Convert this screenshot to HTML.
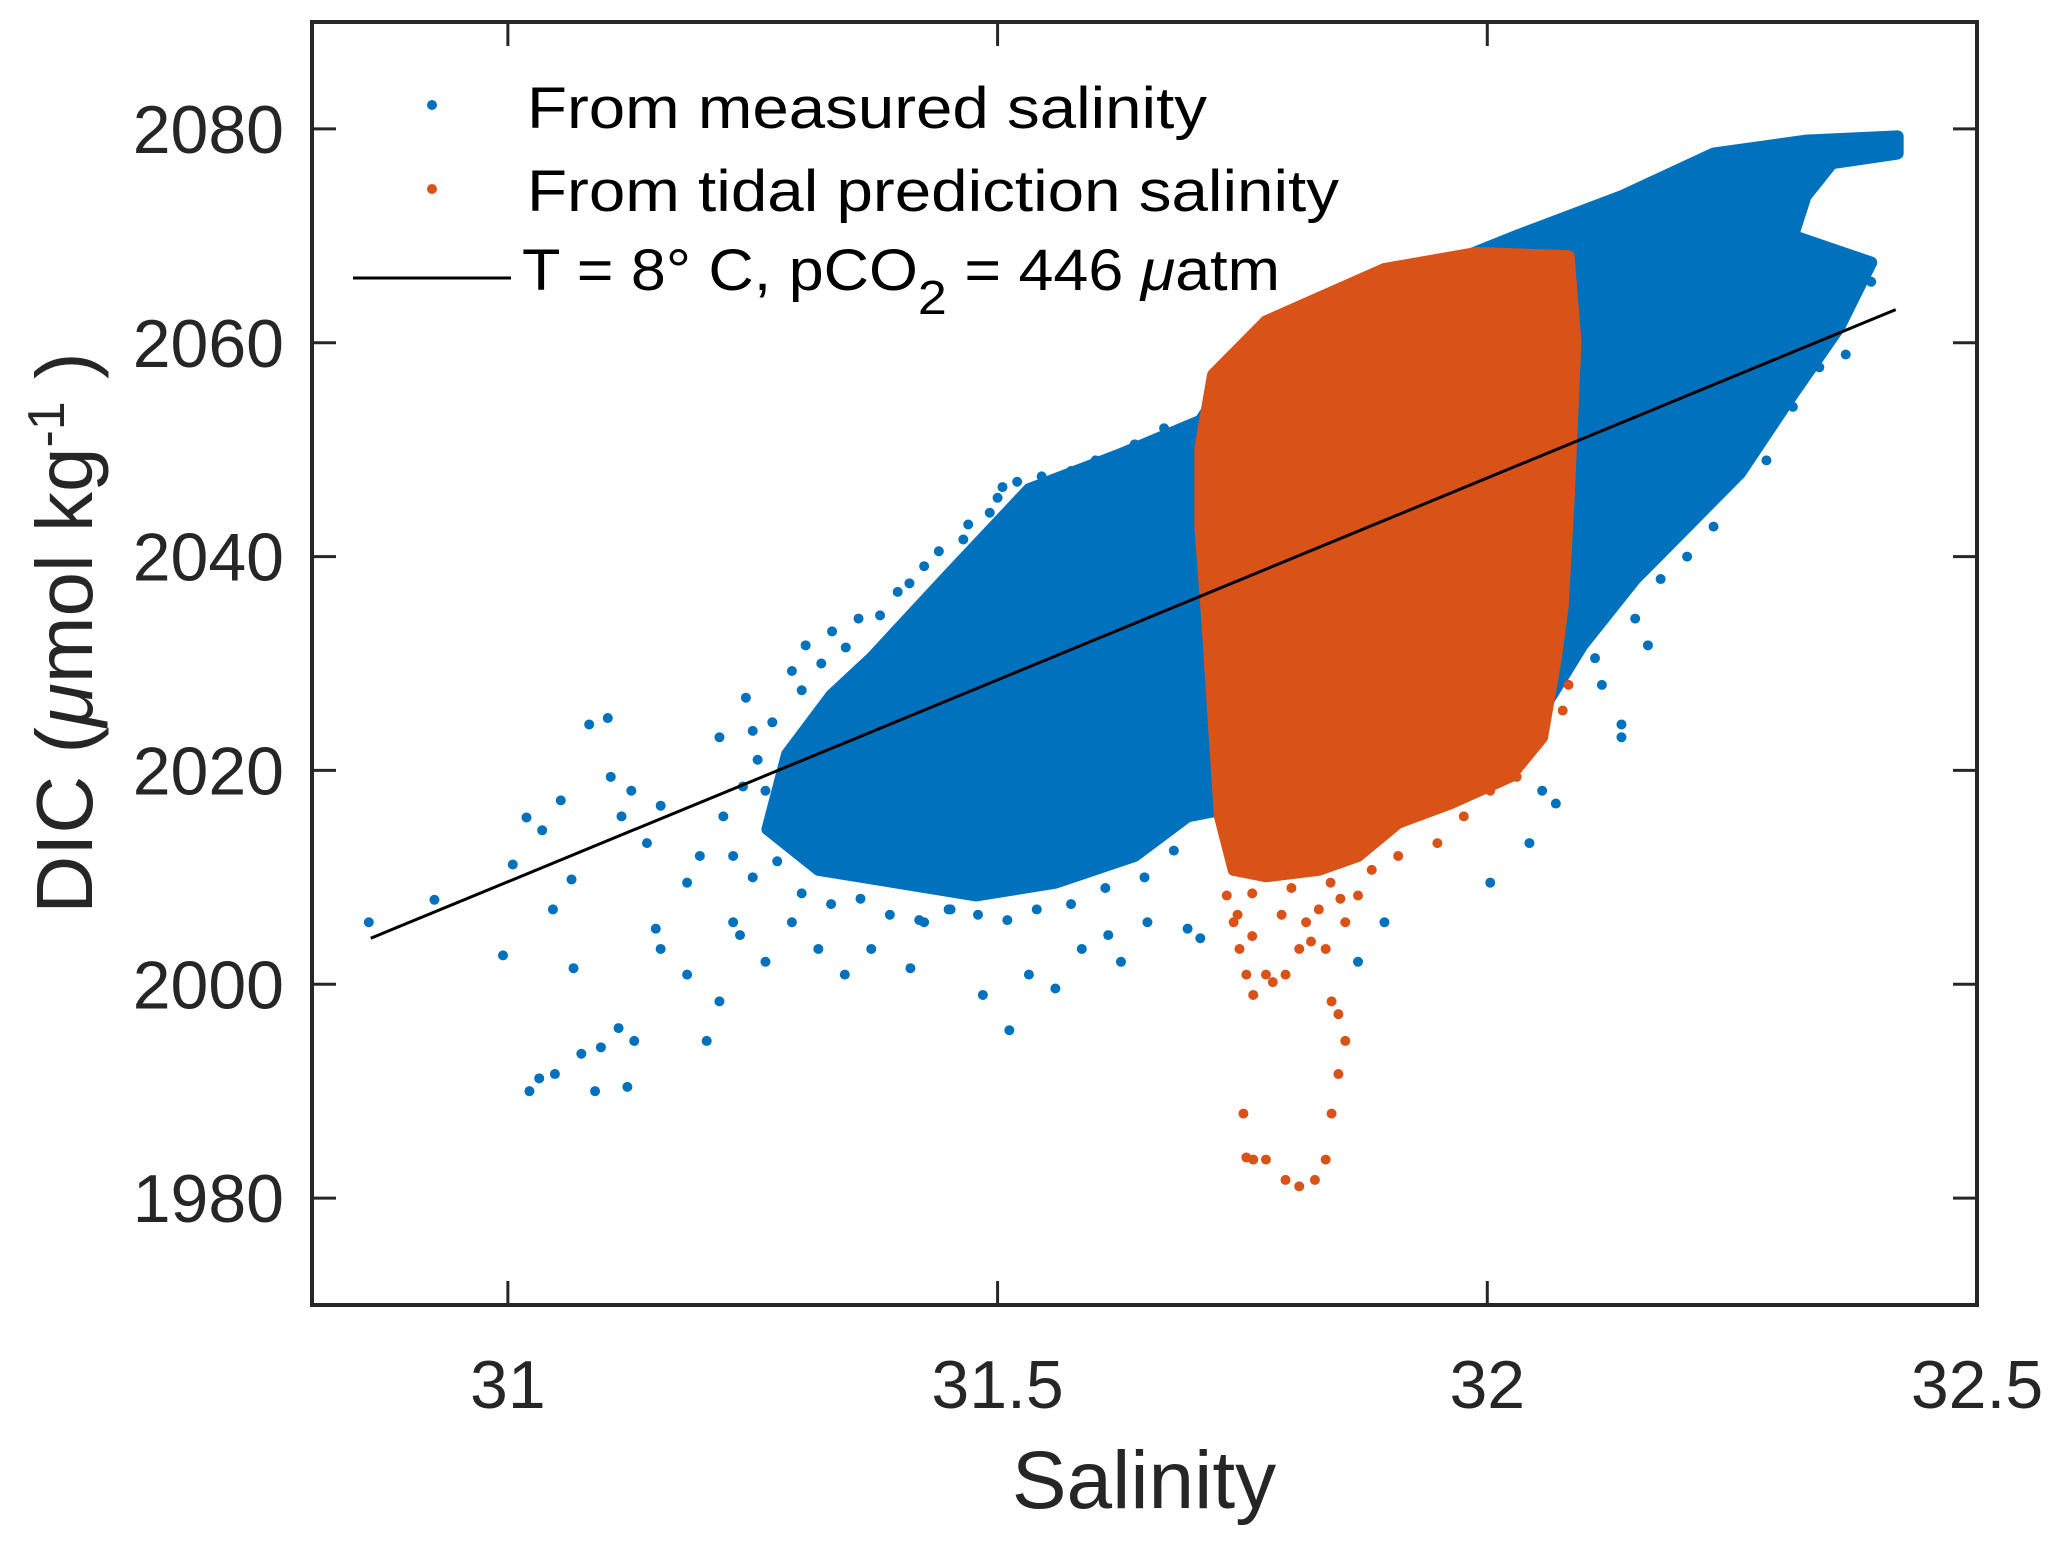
<!DOCTYPE html>
<html><head><meta charset="utf-8"><style>
html,body{margin:0;padding:0;background:#fff}
svg{display:block}
text{font-family:"Liberation Sans",Arial,sans-serif}
</style></head><body>
<svg id="chart" width="2067" height="1546" viewBox="0 0 2067 1546" xmlns="http://www.w3.org/2000/svg">
<rect width="2067" height="1546" fill="#fff"/>
<g id="plot"></g>
<g id="axes"></g>
</svg>
<script>
const xTicks=[31,31.5,32,32.5];
const xTickLabels=["31","31.5","32","32.5"];
const yTicks=[1980,2000,2020,2040,2060,2080];
const yTickLabels=["1980","2000","2020","2040","2060","2080"];
const lineX=[30.86,32.417];
const lineY=[2004.3,2063.1];
const blueHullX=[31.265,31.285,31.330,31.371,31.452,31.532,31.626,31.707,31.734,31.828,31.962,32.030,32.137,32.231,32.325,32.419,32.419,32.352,32.325,32.312,32.392,32.359,32.312,32.258,32.204,32.151,32.097,32.056,32.003,31.909,31.761,31.694,31.640,31.559,31.478,31.398,31.317];
const blueHullY=[2014.5,2021.5,2027.0,2030.5,2038.5,2046.3,2049.6,2052.7,2056.4,2062.6,2067.5,2070.0,2073.7,2077.7,2078.9,2079.3,2077.7,2076.8,2073.7,2070.0,2067.5,2061.4,2055.2,2047.8,2042.8,2037.9,2031.7,2025.6,2020.6,2018.1,2016.9,2015.7,2012.0,2009.5,2008.3,2009.5,2010.7];
const blueX=[30.858,30.925,30.995,31.005,31.019,31.035,31.046,31.054,31.065,31.067,31.083,31.102,31.105,31.116,31.126,31.142,31.151,31.156,31.183,31.196,31.216,31.220,31.230,31.243,31.250,31.263,31.290,31.290,31.304,31.331,31.358,31.398,31.425,31.465,31.492,31.505,31.022,31.032,31.048,31.075,31.095,31.113,31.122,31.089,31.129,31.156,31.183,31.203,31.216,31.237,31.263,31.290,31.317,31.344,31.371,31.411,31.425,31.452,31.485,31.512,31.532,31.559,31.586,31.613,31.626,31.653,31.694,31.707,31.868,31.895,32.003,32.043,32.056,32.137,32.137,32.117,32.151,32.177,32.204,32.231,32.285,32.312,32.339,32.164,32.090,32.070,32.110,32.271,32.366,32.392,32.298,31.240,31.255,31.270,31.300,31.320,31.345,31.380,31.410,31.440,31.470,31.500,31.520,31.545,31.575,31.600,31.640,31.670,31.230,31.250,31.275,31.300,31.330,31.360,31.390,31.420,31.450,31.480,31.510,31.540,31.575,31.610,31.650,31.680];
const blueY=[2005.8,2007.9,2002.7,2011.2,2015.6,2014.4,2007.0,2017.2,2009.8,2001.5,2024.3,2024.9,2019.4,2015.7,2018.1,2013.2,2005.2,2016.7,2009.5,2012.0,2023.1,2015.7,2005.8,2026.8,2023.7,2018.1,2029.3,2019.4,2031.7,2033.0,2034.2,2036.7,2039.1,2041.6,2044.1,2046.5,1990.0,1991.2,1991.6,1993.5,1994.1,1995.9,1990.4,1990.0,1994.7,2003.3,2000.9,1994.7,1998.4,2004.6,2002.1,2005.8,2003.3,2000.9,2003.3,2001.5,2005.8,2007.0,1999.0,1995.7,2000.9,1999.6,2003.3,2004.6,2002.1,2005.8,2005.2,2004.3,2002.1,2005.8,2009.5,2013.2,2018.1,2024.3,2023.1,2028.0,2034.2,2037.9,2040.0,2042.8,2049.0,2054.0,2057.7,2031.7,2031.1,2016.9,2030.5,2051.5,2058.9,2065.7,2069.4,2018.5,2021.0,2024.5,2027.5,2030.0,2031.5,2034.5,2037.5,2040.5,2043.0,2045.5,2047.0,2047.5,2048.0,2049.0,2050.5,2052.0,2012.0,2010.0,2011.5,2008.5,2007.5,2008.0,2006.5,2006.0,2007.0,2006.5,2006.0,2007.0,2007.5,2009.0,2010.0,2012.5];
const orangeHullX=[31.720,31.774,31.895,31.989,32.083,32.090,32.083,32.077,32.070,32.056,32.023,31.962,31.909,31.868,31.828,31.774,31.741,31.727,31.720,31.714,31.707,31.707];
const orangeHullY=[2057.0,2062.0,2066.9,2068.4,2068.1,2060.1,2045.3,2035.4,2030.5,2023.1,2019.4,2016.9,2015.1,2012.0,2010.7,2010.1,2010.7,2015.7,2025.6,2034.2,2042.8,2050.2];
const orangeX=[31.734,31.741,31.747,31.754,31.761,31.774,31.781,31.794,31.808,31.815,31.828,31.835,31.841,31.848,31.855,31.848,31.841,31.835,31.824,31.808,31.794,31.774,31.761,31.754,31.751,31.855,31.868,31.882,31.909,31.949,31.976,32.003,32.030,32.050,32.077,32.083,31.745,31.760,31.790,31.820,31.850,31.760,31.800,31.840];
const orangeY=[2008.3,2005.8,2003.3,2000.9,1999.0,2000.9,2000.2,2000.9,2003.3,2005.8,2007.0,2003.3,1998.4,1997.2,1994.7,1991.6,1987.9,1983.6,1981.7,1981.1,1981.7,1983.6,1983.6,1983.8,1987.9,2005.8,2008.3,2010.7,2012.0,2013.2,2015.7,2018.1,2019.4,2023.1,2025.6,2028.0,2006.5,2004.5,2006.5,2004.0,2008.0,2008.5,2009.0,2009.5];

const L=312,R=1977,T=22,B=1305,XMIN=30.8,XMAX=32.5,YMIN=1970,YMAX=2090;
const sx=v=>L+(v-XMIN)/(XMAX-XMIN)*(R-L);
const sy=v=>B-(v-YMIN)/(YMAX-YMIN)*(B-T);
const NS="http://www.w3.org/2000/svg";
const plot=document.getElementById('plot'),axes=document.getElementById('axes');
function mk(tag,attrs,parent){const e=document.createElementNS(NS,tag);for(const k in attrs)e.setAttribute(k,attrs[k]);parent.appendChild(e);return e;}
const BLUE="#0072BD",ORANGE="#D95319";

let bh=mk('polygon',{points:blueHullX.map((x,i)=>sx(x)+','+sy(blueHullY[i])).join(' '),fill:BLUE,stroke:BLUE,'stroke-width':12,'stroke-linejoin':'round'},plot);


blueX.forEach((x,i)=>{const c=mk('circle',{cx:sx(x),cy:sy(blueY[i]),r:5,fill:BLUE},plot);

});
let oh=mk('polygon',{points:orangeHullX.map((x,i)=>sx(x)+','+sy(orangeHullY[i])).join(' '),fill:ORANGE,stroke:ORANGE,'stroke-width':12,'stroke-linejoin':'round'},plot);


orangeX.forEach((x,i)=>{const c=mk('circle',{cx:sx(x),cy:sy(orangeY[i]),r:5,fill:ORANGE},plot);

});
let ln=mk('line',{x1:sx(lineX[0]),y1:sy(lineY[0]),x2:sx(lineX[1]),y2:sy(lineY[1]),stroke:'#000','stroke-width':3},plot);



const AX="#262626";
let fr=mk('rect',{x:L,y:T,width:R-L,height:B-T,fill:'none',stroke:AX,'stroke-width':4},axes);


xTicks.forEach((v,i)=>{const x=sx(v);
mk('line',{x1:x,y1:B,x2:x,y2:B-24,stroke:AX,'stroke-width':3},axes);
mk('line',{x1:x,y1:T,x2:x,y2:T+24,stroke:AX,'stroke-width':3},axes);
const t=mk('text',{x:x,y:1408,'text-anchor':'middle','font-size':68,fill:AX},axes);t.textContent=xTickLabels[i];

});
yTicks.forEach((v,i)=>{const y=sy(v);
mk('line',{x1:L,y1:y,x2:L+24,y2:y,stroke:AX,'stroke-width':3},axes);
mk('line',{x1:R,y1:y,x2:R-24,y2:y,stroke:AX,'stroke-width':3},axes);
const t=mk('text',{x:284,y:y+24,'text-anchor':'end','font-size':68,fill:AX},axes);t.textContent=yTickLabels[i];

});
</script>
<svg style="position:absolute;left:0;top:0" width="2067" height="1546">
<text x="1144" y="1508" text-anchor="middle" font-size="82" fill="#262626" font-family="Liberation Sans, sans-serif">Salinity</text>
<text transform="translate(92,633) rotate(-90)" text-anchor="middle" font-size="80" fill="#262626" font-family="Liberation Sans, sans-serif">DIC (<tspan font-style="italic">μ</tspan>mol kg<tspan dy="-28" font-size="52">-1</tspan><tspan dy="28"> )</tspan></text>
<g font-family="Liberation Sans, sans-serif" font-size="58" fill="#000">
<circle cx="432" cy="105" r="5" fill="#0072BD"/>
<text x="527" y="128" textLength="680" lengthAdjust="spacingAndGlyphs">From measured salinity</text>
<circle cx="432" cy="189" r="5" fill="#D95319"/>
<text x="527" y="211" textLength="812" lengthAdjust="spacingAndGlyphs">From tidal prediction salinity</text>
<line x1="353" y1="278" x2="511" y2="278" stroke="#000" stroke-width="3"/>
<text x="522" y="290" textLength="758" lengthAdjust="spacingAndGlyphs">T = 8° C, pCO<tspan dy="24" font-size="48">2</tspan><tspan dy="-24"> = 446 </tspan><tspan font-style="italic">μ</tspan>atm</text>
</g>
</svg>
</body></html>
